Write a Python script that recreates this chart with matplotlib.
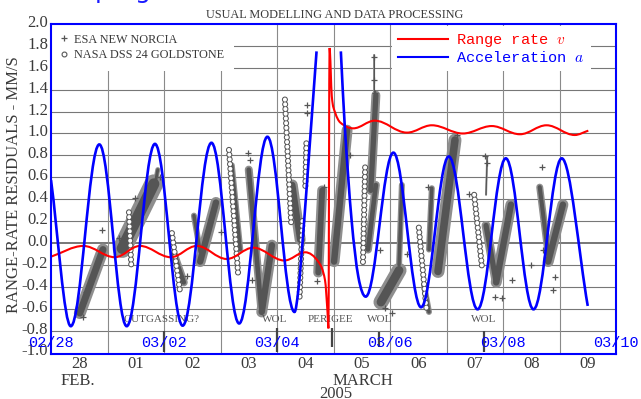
import numpy as np
import matplotlib
matplotlib.use("Agg")
import matplotlib.pyplot as plt
from matplotlib.path import Path
from matplotlib.patches import PathPatch
from matplotlib.lines import Line2D
from matplotlib.transforms import ScaledTranslation

plt.rcParams['mathtext.fontset'] = 'cm'

# time axis: days since 28 Feb 2005 0h
day_labels = ["28", "01", "02", "03", "04", "05", "06", "07", "08", "09"]
day_ticks = [0.5, 1.5, 2.5, 3.5, 4.5, 5.5, 6.5, 7.5, 8.5, 9.5]
date_labels = ["02/28", "03/02", "03/04", "03/06", "03/08", "03/10"]
date_ticks = [0, 2, 4, 6, 8, 10]
y_ticks = [-1.0, -0.8, -0.6, -0.4, -0.2, 0.0, 0.2, 0.4, 0.6, 0.8,
           1.0, 1.2, 1.4, 1.6, 1.8, 2.0]

# model curves
range_rate_t = [0.00, 0.57, 1.13, 1.575, 2.12, 2.58, 3.11, 3.58, 4.13, 4.50,
                4.73, 4.85, 4.895, 4.91, 4.93, 4.97, 5.03, 5.12, 5.35, 5.73,
                6.30, 6.74, 7.29, 7.80, 8.30, 8.77, 9.27, 9.51]
range_rate_v = [-0.125, -0.027, -0.13, -0.027, -0.13, -0.027, -0.146, -0.043, -0.16, -0.085,
                -0.17, -0.34, -0.64, -0.78, 1.78, 1.34, 1.19, 1.10, 1.047, 1.117,
                1.008, 1.075, 1.000, 1.068, 0.993, 1.075, 0.986, 1.026]
accel_left_t = [0.00, 0.35, 0.855, 1.34, 1.84, 2.33, 2.84, 3.33, 3.83, 4.31,
                4.38, 4.46, 4.58, 4.70]
accel_left_v = [0.575, -0.76, 0.90, -0.76, 0.905, -0.755, 0.915, -0.735, 0.97, -0.63,
                -0.42, 0.06, 0.90, 1.75]
accel_right_t = [5.13, 5.20, 5.32, 5.44, 5.57, 6.06, 6.55, 7.04, 7.55, 8.05,
                 8.54, 9.04, 9.50]
accel_right_v = [1.75, 1.06, 0.21, -0.31, -0.49, 0.825, -0.587, 0.79, -0.606, 0.773,
                 -0.606, 0.773, -0.575]

# ESA New Norcia passes: start/end (day, mm/s) and band width (px)
esa_t0 = [0.51, 1.26, 1.84, 2.18, 2.53, 2.64, 3.20, 3.50, 3.73, 4.27, 4.73, 5.01, 5.61,
          5.66, 5.72, 5.84, 6.16, 6.60, 6.69, 6.85, 7.70, 7.70, 7.88, 8.65, 8.80]
esa_v0 = [-0.64, -0.05, 0.53, -0.11, 0.25, -0.17, 0.71, 0.67, -0.63, 0.53, -0.27, -0.17, -0.06,
          0.48, 1.35, -0.54, -0.20, -0.38, -0.06, -0.26, 0.44, 0.16, -0.36, 0.51, -0.17]
esa_t1 = [0.92, 1.82, 1.89, 2.35, 2.64, 2.92, 3.35, 3.72, 3.91, 4.41, 4.80, 5.24, 5.75,
          5.75, 5.72, 6.16, 6.21, 6.69, 6.74, 7.15, 7.72, 7.88, 8.14, 8.80, 9.06]
esa_v1 = [-0.06, 0.54, 0.67, -0.36, -0.08, 0.37, -0.06, -0.59, -0.02, 0.03, 0.48, 1.03, 0.53,
          1.35, 1.72, -0.25, 0.53, -0.63, 0.50, 0.94, 0.79, -0.36, 0.35, -0.11, 0.35]
esa_w = [12, 19, 5, 8, 6, 11, 6, 8, 11, 11, 10, 11, 8,
         9, 2, 15, 6, 6, 6, 13, 2, 9, 11, 7, 11]
esa_pts_t = [0.90, 0.57, 1.49, 1.93, 3.49, 3.52, 3.56, 4.53, 4.53, 4.83, 5.72, 5.72, 5.73,
             5.82, 5.91, 6.04, 6.67, 7.19, 7.68, 7.72, 7.86, 7.98, 8.16, 8.69, 8.71, 8.88, 8.92,
             0.62, 1.20, 2.40, 3.00, 4.70, 5.30, 6.30, 7.40, 8.50]
esa_pts_v = [0.12, -0.68, 0.41, 0.60, 0.82, 0.76, -0.34, 1.26, 1.19, 0.51, 1.70, 1.49, 1.37,
             -0.06, -0.59, -0.64, 0.51, 0.99, 0.79, 0.73, -0.49, -0.50, -0.34, 0.69, -0.06, -0.43, -0.31,
             -0.45, 0.05, -0.30, 0.10, -0.35, 0.80, -0.10, 0.45, -0.20]

# NASA DSS 24 passes (columns of circles)
nasa_t0 = [1.38, 2.14, 3.15, 4.14, 4.52, 4.45, 5.56, 6.51, 7.49]
nasa_v0 = [0.28, 0.09, 0.85, 1.31, 0.91, 0.20, 0.69, 0.14, 0.44]
nasa_t1 = [1.42, 2.28, 3.31, 4.25, 4.50, 4.40, 5.52, 6.65, 7.63]
nasa_v1 = [-0.20, -0.43, -0.27, 0.19, 0.48, -0.49, -0.20, -0.63, -0.23]

event_labels = ["OUTGASSING?", "WOL", "PERIGEE", "WOL", "WOL"]
event_t = [1.96, 3.96, 4.94, 5.82, 7.66]
marker_t = [2.0, 4.0, 4.97, 5.81, 7.66]
marker_v0 = [-1.0, -1.0, -0.95, -0.95, -1.0]
marker_v1 = [-0.80, -0.78, -0.78, -0.81, -0.80]


def smooth_path(t, v):
    t = np.asarray(t, float)
    v = np.asarray(v, float)
    n = len(t)
    m = np.zeros(n)
    for i in range(n):
        if i == 0:
            m[i] = (v[1] - v[0]) / (t[1] - t[0])
        elif i == n - 1:
            m[i] = (v[-1] - v[-2]) / (t[-1] - t[-2])
        elif (v[i] - v[i - 1]) * (v[i + 1] - v[i]) <= 0:
            m[i] = 0.0
        else:
            m[i] = (v[i + 1] - v[i - 1]) / (t[i + 1] - t[i - 1])
    verts = [(t[0], v[0])]
    codes = [Path.MOVETO]
    for i in range(n - 1):
        dt = t[i + 1] - t[i]
        h = dt * 0.364 if (m[i] == 0 and m[i + 1] == 0) else dt / 3
        verts += [(t[i] + h, v[i] + h * m[i]), (t[i + 1] - h, v[i + 1] - h * m[i + 1]),
                  (t[i + 1], v[i + 1])]
        codes += [Path.CURVE4] * 3
    return Path(verts, codes)


W, H = 641, 399
fig = plt.figure(figsize=(W / 100, H / 100), dpi=100)
ax = fig.add_axes([51 / W, (H - 354) / H, 565 / W, 330 / H])
ax.set_xlim(0, 10)
ax.set_ylim(-1.014, 2.0)

ink = '#3a3a3a'
dots = '#555555'
haze = '#8e8e8e'
serif = 'Liberation Serif'
mono = 'Liberation Mono'

# scanned grid
for y in y_ticks[1:-1]:
    ax.axhline(y, color='#777777', lw=1.4 if y == 0.0 else 0.8, zorder=1)
for d in range(1, 10):
    ax.axvline(d, color='#8a8a8a', lw=0.8, zorder=1)
ax.vlines(marker_t, marker_v0, marker_v1, color='#444444', lw=1.6, zorder=1.5)

# ESA passes as dense bands: fuzzy edge + darker core
for t0, v0, t1, v1, w in zip(esa_t0, esa_v0, esa_t1, esa_v1, esa_w):
    ax.plot([t0, t1], [v0, v1], color=haze, lw=w * 0.72, solid_capstyle='round', zorder=2)
    ax.plot([t0, t1], [v0, v1], color=dots, lw=w * 0.42, solid_capstyle='round', zorder=2.1)
ax.plot(esa_pts_t, esa_pts_v, ls='none', marker='+', color=dots, ms=4, mew=0.9, zorder=2)

# NASA passes as stacked open circles
outer, inner, step = 4.4, 2.9, 3.4
for t0, v0, t1, v1 in zip(nasa_t0, nasa_v0, nasa_t1, nasa_v1):
    ax.plot([t0, t1], [v0, v1], color=dots, lw=outer, dash_capstyle='round',
            ls=(0, (0.02, step / outer - 0.02)), zorder=3)
    on = 0.02 * outer / inner
    ax.plot([t0, t1], [v0, v1], color='white', lw=inner, dash_capstyle='round',
            ls=(0, (on, step / inner - on)), zorder=3.1)

# model curves
ax.add_patch(PathPatch(smooth_path(range_rate_t, range_rate_v), fill=False,
                       edgecolor='#ff0000', lw=1.5, zorder=6))
ax.add_patch(PathPatch(smooth_path(accel_left_t, accel_left_v), fill=False,
                       edgecolor='#0000ff', lw=1.9, zorder=7))
ax.add_patch(PathPatch(smooth_path(accel_right_t, accel_right_v), fill=False,
                       edgecolor='#0000ff', lw=1.9, zorder=7))

# event annotations
for lab, t in zip(event_labels, event_t):
    ax.text(t, -0.70, lab, ha='center', va='center', fontsize=8, family=serif,
            color='#555555', zorder=4)

# overlay date labels
for lab, t in zip(date_labels, date_ticks):
    ax.text(t, -0.909, lab, ha='center', va='center', fontsize=11, family=mono,
            color='#0000ff', clip_on=False, zorder=8)

# axes and ticks
ax.set_yticks(y_ticks)
ax.set_yticklabels([f"{y:.1f}" for y in y_ticks], fontsize=12, family=serif, color=ink)
ax.set_xticks(day_ticks)
ax.set_xticklabels(day_labels, fontsize=12, family=serif, color=ink)
ax.tick_params(axis='both', length=0)
ax.tick_params(axis='y', pad=2)
ax.tick_params(axis='x', pad=1.5)
shift = ScaledTranslation(0, 3 / 100, fig.dpi_scale_trans)
for lab in ax.get_yticklabels():
    lab.set_transform(lab.get_transform() + shift)
for s in ax.spines.values():
    s.set_color('#0000ff')
    s.set_linewidth(1.5)
    s.set_zorder(9)

# legends
scan_handles = [Line2D([], [], ls='none', marker='+', color=dots, ms=4, mew=0.9),
                Line2D([], [], ls='none', marker='o', mfc='white', mec=dots, ms=3.5, mew=0.8)]
leg1 = ax.legend(scan_handles, ["ESA NEW NORCIA", "NASA DSS 24 GOLDSTONE"],
                 loc='upper left', bbox_to_anchor=(0, 1), borderaxespad=0,
                 prop={'family': serif, 'size': 8.8}, labelcolor=ink,
                 frameon=True, fancybox=False, framealpha=1, edgecolor='none',
                 handlelength=0.5, handletextpad=0.6, borderpad=0.8, labelspacing=0.25)
ax.add_artist(leg1)
curve_handles = [Line2D([], [], color='#ff0000', lw=1.5),
                 Line2D([], [], color='#0000ff', lw=1.5)]
ax.legend(curve_handles, ["Range rate $v$", "Acceleration $a$"],
          loc='upper left', bbox_to_anchor=((392 - 51) / 565, (354 - 26) / 330),
          borderaxespad=0, prop={'family': mono, 'size': 11}, labelcolor='linecolor',
          frameon=True, fancybox=False, framealpha=1, edgecolor='none',
          handlelength=3.27, handletextpad=0.52, borderpad=0.4, labelspacing=0.05)

# scanned figure texts
fig.text(335 / W, 1 - 15 / H, "USUAL MODELLING AND DATA PROCESSING", ha='center', va='center',
         fontsize=8.8, family=serif, color=ink)
fig.text(14 / W, 1 - 185 / H, "RANGE-RATE RESIDUALS - MM/S", rotation=90, ha='center',
         va='center', fontsize=12, family=serif, color=ink)
fig.text(78 / W, 1 - 381 / H, "FEB.", ha='center', va='center', fontsize=12, family=serif, color=ink)
fig.text(363 / W, 1 - 381 / H, "MARCH", ha='center', va='center', fontsize=12, family=serif, color=ink)
fig.text(336 / W, 1 - 394 / H, "2005", ha='center', va='center', fontsize=12, family=serif, color=ink)

# remains of the slide title above
fig.text(103 / W, 1 + 2 / H, "p", ha='center', va='baseline', fontsize=18, color='#1a1aff')
fig.text(143 / W, 1 + 2 / H, "g", ha='center', va='baseline', fontsize=18, color='#1a1aff')

fig.savefig("out.png", dpi=100)
